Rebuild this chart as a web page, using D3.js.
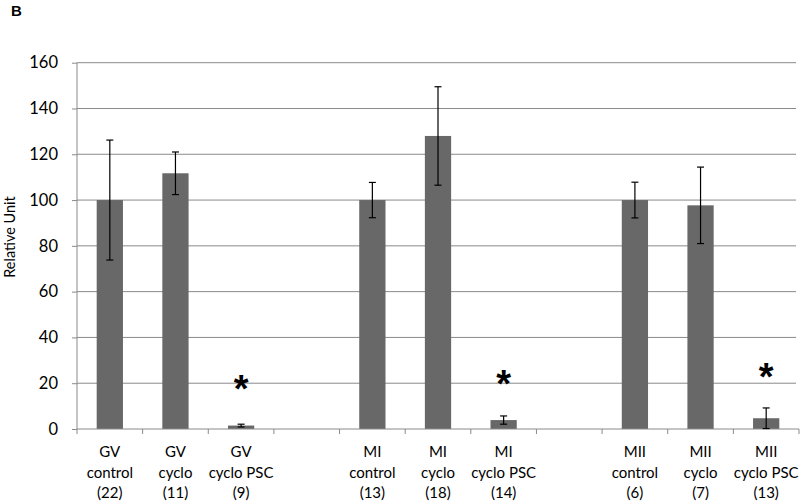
<!DOCTYPE html>
<html>
<head>
<meta charset="utf-8">
<script src="https://cdn.jsdelivr.net/npm/d3@7"></script>
<style>
  html, body { margin: 0; padding: 0; background: #fff; }
  svg { display: block; font-family: Lato, "Open Sans", sans-serif; }
</style>
</head>
<body>
<svg id="chart" width="800" height="501"></svg>
<script>
// ---- data ----
const slots = ["s0","s1","s2","gap1","s4","s5","s6","gap2","s8","s9","s10"];
const labelLines = [
  ["GV","control","(22)"], ["GV","cyclo","(11)"], ["GV","cyclo PSC","(9)"], null,
  ["MI","control","(13)"], ["MI","cyclo","(18)"], ["MI","cyclo PSC","(14)"], null,
  ["MII","control","(6)"], ["MII","cyclo","(7)"], ["MII","cyclo PSC","(13)"]
];
const values =  [100, 111.7, 1.5, null, 100, 128, 3.9, null, 100, 97.7, 4.7];
const errors =  [26.2, 9.3, 0.6, null, 7.7, 21.5, 1.8, null, 7.8, 16.7, 4.5];
const starY  =  [null, null, 18.3, null, null, null, 20.6, null, null, null, 23.7];
const yTicks = [0, 20, 40, 60, 80, 100, 120, 140, 160];

// ---- layout ----
const svg = d3.select("#chart");
const mLeft = 77, mRight = 799, mTop = 62.7, mBottom = 429;

const x = d3.scaleBand().domain(slots).range([mLeft, mRight]).paddingInner(0).paddingOuter(0);
const y = d3.scaleLinear().domain([0, 160]).range([mBottom, mTop]);
const barW = x.bandwidth() * 0.4;

// panel label
svg.append("text").attr("x", 11).attr("y", 16).attr("font-size", 15).attr("font-weight", "bold")
  .attr("font-family", "Liberation Sans, Arial, sans-serif").text("B");

// gridlines
svg.append("g").selectAll("line").data(yTicks.filter(d => d > 0)).join("line")
  .attr("x1", mLeft).attr("x2", 796)
  .attr("y1", d => y(d)).attr("y2", d => y(d))
  .attr("stroke", "#8a8a8a").attr("stroke-width", 1);

// y axis
const yAxis = svg.append("g").attr("transform", `translate(${mLeft},0)`)
  .call(d3.axisLeft(y).tickValues(yTicks).tickSize(5).tickPadding(14));
yAxis.select(".domain").attr("stroke", "#8a8a8a").attr("d", `M0,${mBottom}V${mTop}`);
yAxis.selectAll(".tick line").attr("stroke", "#8a8a8a");
yAxis.selectAll(".tick text").attr("font-size", 16.5).attr("fill", "#000")
  .attr("font-family", "Lato, sans-serif");

// y label
svg.append("text").attr("transform", "translate(14.5,237) rotate(-90)")
  .attr("text-anchor", "middle").attr("font-size", 14.5).attr("fill", "#000")
  .text("Relative Unit");

// bars
const idx = d3.range(slots.length).filter(i => values[i] != null);
svg.append("g").selectAll("rect").data(idx).join("rect")
  .attr("x", i => x(slots[i]) + (x.bandwidth() - barW) / 2)
  .attr("width", barW)
  .attr("y", i => y(values[i]))
  .attr("height", i => y(0) - y(values[i]))
  .attr("fill", "#686868");

// x axis
const xAxisG = svg.append("g").attr("transform", `translate(0,${mBottom})`);
xAxisG.append("line").attr("x1", mLeft).attr("x2", mRight).attr("y1", 0).attr("y2", 0)
  .attr("stroke", "#8a8a8a");
const bounds = slots.map(s => x(s)).concat([mRight]);
xAxisG.selectAll("line.tk").data(bounds).join("line").attr("class", "tk")
  .attr("x1", d => d).attr("x2", d => d).attr("y1", 0).attr("y2", 5)
  .attr("stroke", "#8a8a8a");

// error bars
const eg = svg.append("g").attr("stroke", "#000").attr("stroke-width", 1.2);
idx.forEach(i => {
  const cx = x(slots[i]) + x.bandwidth() / 2;
  const hi = y(values[i] + errors[i]), lo = y(Math.max(0, values[i] - errors[i]));
  eg.append("line").attr("x1", cx).attr("x2", cx).attr("y1", hi).attr("y2", lo);
  eg.append("line").attr("x1", cx - 3.5).attr("x2", cx + 3.5).attr("y1", hi).attr("y2", hi);
  eg.append("line").attr("x1", cx - 3.5).attr("x2", cx + 3.5).attr("y1", lo).attr("y2", lo);
});

// asterisks
svg.append("g").selectAll("text").data(idx.filter(i => starY[i] != null)).join("text")
  .attr("x", i => x(slots[i]) + x.bandwidth() / 2)
  .attr("y", i => y(starY[i]) + 15)
  .attr("text-anchor", "middle").attr("font-size", 38).attr("font-weight", "bold")
  .attr("font-family", "Liberation Sans, Arial, sans-serif")
  .text("*");

// category labels
const lg = svg.append("g");
labelLines.forEach((lines, i) => {
  if (!lines) return;
  const cx = x(slots[i]) + x.bandwidth() / 2;
  lines.forEach((t, k) => {
    lg.append("text").attr("x", cx).attr("y", 457 + k * 20.7)
      .attr("text-anchor", "middle").attr("font-size", 15).attr("fill", "#000")
      .text(t);
  });
});
</script>
</body>
</html>
